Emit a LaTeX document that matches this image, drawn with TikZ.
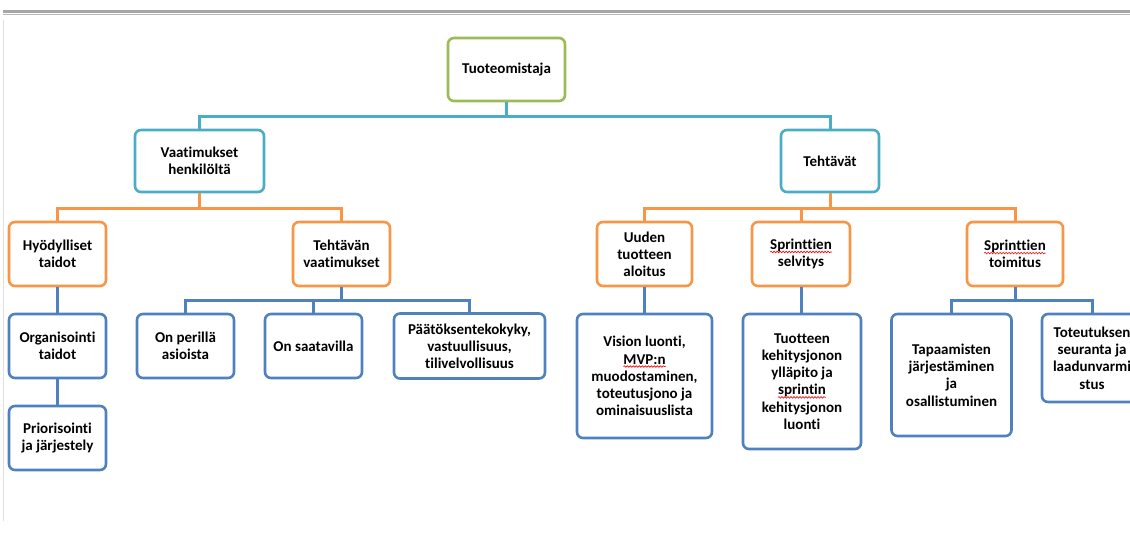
\documentclass[tikz,border=0pt]{standalone}
\usepackage{fontspec}
\setmainfont{Carlito}[Ligatures=NoCommon]
\usetikzlibrary{decorations.pathmorphing}

\definecolor{boxgreen}{RGB}{155,187,89}
\definecolor{boxcyan}{RGB}{75,172,198}
\definecolor{boxorange}{RGB}{247,150,70}
\definecolor{boxblue}{RGB}{79,129,189}

% red wavy spell-check mark
\newcommand\spell[1]{\tikz[baseline=(w.base)]{\node[draw=none,fill=none,inner sep=0pt,outer sep=0pt,
  minimum width=0pt,minimum height=0pt,rounded corners=0pt] (w) {#1};
  \draw[red,line width=0.6pt,sharp corners,decorate,decoration={snake,amplitude=0.8pt,segment length=3pt}]
    ([yshift=-2.5pt]w.base west) -- ([yshift=-2.5pt]w.base east);}}

\begin{document}
\begin{tikzpicture}[x=1pt,y=-1pt,
  box/.style={draw,rounded corners=6pt,line width=2.6pt,fill=white,align=center,
    inner sep=2pt,font=\fontsize{15}{17.2}\selectfont\bfseries},
  lnk/.style={line width=3pt}]
  \clip (0,0) rectangle (1130,552);
  % screenshot frame
  \fill[gray!70] (3,10) rectangle (1130,13);
  \draw[gray!55,line width=1pt] (3,14.5)--(1130,14.5);
  \draw[gray!25,line width=0.8pt] (3.5,20)--(3.5,521);
  % level 1 and 2
  \node[box,draw=boxgreen,minimum width=117,minimum height=63] (root) at (506.5,69.5) {Tuoteomistaja};
  \node[box,draw=boxcyan,minimum width=129,minimum height=62] (vaat) at (199.5,161) {Vaatimukset\\henkilöltä};
  \node[box,draw=boxcyan,minimum width=98,minimum height=62] (teht) at (830,161) {Tehtävät};
  % level 3
  \node[box,draw=boxorange,minimum width=97,minimum height=64] (hyod) at (57.5,254) {Hyödylliset\\taidot};
  \node[box,draw=boxorange,minimum width=97,minimum height=64] (tvaat) at (341.5,254) {Tehtävän\\vaatimukset};
  \node[box,draw=boxorange,minimum width=95,minimum height=64] (uusi) at (644.5,254) {Uuden\\tuotteen\\aloitus};
  \node[box,draw=boxorange,minimum width=98,minimum height=64] (selv) at (801,254) {\spell{Sprinttien}\\selvitys};
  \node[box,draw=boxorange,minimum width=96,minimum height=64] (toim) at (1015,254) {\spell{Sprinttien}\\toimitus};
  % level 4
  \node[box,draw=boxblue,minimum width=97,minimum height=64] (org) at (57.5,346) {Organisointi\\taidot};
  \node[box,draw=boxblue,minimum width=97,minimum height=64] (prior) at (57.5,438) {Priorisointi\\ja järjestely};
  \node[box,draw=boxblue,minimum width=97,minimum height=64] (peri) at (185.5,346) {On perillä\\asioista};
  \node[box,draw=boxblue,minimum width=97,minimum height=64] (saat) at (313.5,346) {On saatavilla};
  \node[box,draw=boxblue,minimum width=151,minimum height=65] (paat) at (469.5,346) {Päätöksentekokyky,\\vastuullisuus,\\tilivelvollisuus};
  \node[box,draw=boxblue,minimum width=135,minimum height=124] (vision) at (644.5,376) {Vision luonti,\\\spell{MVP:n}\\muodostaminen,\\toteutusjono ja\\ominaisuuslista};
  \node[box,draw=boxblue,minimum width=118,minimum height=135] (tuot) at (802,381.5) {Tuotteen\\kehitysjonon\\ylläpito ja\\\spell{sprintin}\\kehitysjonon\\luonti};
  \node[box,draw=boxblue,minimum width=120,minimum height=122] (tapa) at (951.5,375) {Tapaamisten\\järjestäminen\\ja\\osallistuminen};
  \node[box,draw=boxblue,minimum width=100,minimum height=88] (toteu) at (1092,358) {Toteutuksen\\seuranta ja\\laadunvarmi\\stus};
  % connectors
  \draw[lnk,boxcyan] (root.south) -- ++(0,14) -| (vaat.north);
  \draw[lnk,boxcyan] (root.south) -- ++(0,14) -| (teht.north);
  \draw[lnk,boxorange] (vaat.south) -- ++(0,15) -| (hyod.north);
  \draw[lnk,boxorange] (vaat.south) -- ++(0,15) -| (tvaat.north);
  \draw[lnk,boxorange] (teht.south) -- ++(0,15) -| (uusi.north);
  \draw[lnk,boxorange] (teht.south) -- ++(0,15) -| (selv.north);
  \draw[lnk,boxorange] (teht.south) -- ++(0,15) -| (toim.north);
  \draw[lnk,boxblue] (hyod) -- (org);
  \draw[lnk,boxblue] (org) -- (prior);
  \draw[lnk,boxblue] (tvaat.south) -- ++(0,13) -| (peri.north);
  \draw[lnk,boxblue] (tvaat.south) -- ++(0,13) -| (saat.north);
  \draw[lnk,boxblue] (tvaat.south) -- ++(0,13) -| (paat.north);
  \draw[lnk,boxblue] (uusi) -- (vision);
  \draw[lnk,boxblue] (selv.south) -- (selv.south |- tuot.north);
  \draw[lnk,boxblue] (toim.south) -- ++(0,13) -| (tapa.north);
  \draw[lnk,boxblue] (toim.south) -- ++(0,13) -| (toteu.north);
\end{tikzpicture}
\end{document}
